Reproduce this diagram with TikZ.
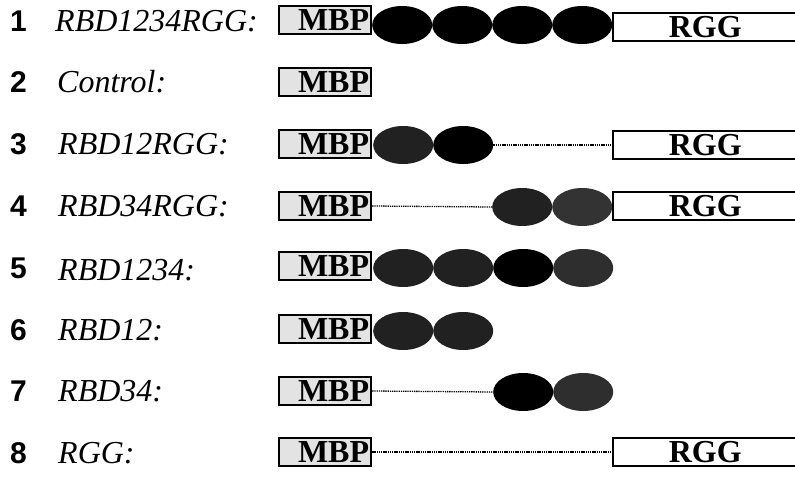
\documentclass[tikz,border=0pt]{standalone}
\usepackage{fontspec}
\setmainfont{Liberation Serif}
\newfontfamily\numfont{Liberation Sans}
\usetikzlibrary{shapes.geometric}
\begin{document}
\begin{tikzpicture}[x=1pt,y=-1pt,
  numtxt/.style={anchor=base west, inner sep=0, font=\numfont\bfseries\fontsize{30}{30}\selectfont},
  labtxt/.style={anchor=base west, inner sep=0, font=\itshape\fontsize{32}{32}\selectfont},
  mbpbox/.style={draw, line width=2.2pt, fill=gray!22, text width=88pt, align=right,
    inner xsep=2pt, inner ysep=0pt, minimum height=28pt, anchor=west,
    font=\bfseries\fontsize{32}{32}\selectfont},
  rbd/.style={ellipse, fill=black, minimum width=60pt, minimum height=38pt, inner sep=0, anchor=west},
  rbdg/.style={rbd, fill=black!87},
  rggbox/.style={draw, line width=1.5pt, fill=white, minimum width=185pt, minimum height=28pt,
    inner sep=0, anchor=west, font=\bfseries\fontsize{32}{32}\selectfont},
  linker/.style={line width=1.3pt, dash pattern=on 1.3pt off 0.9pt}]
\clip (0,0) rectangle (795,479);
\fill[white] (0,0) rectangle (795,479);
% row 1
\node[numtxt] (n1) at (10,31) {1};
\node[labtxt] (l1) at (55,31) {RBD1234RGG:};
\node[mbpbox] (m1) at (278,20) {MBP};
\node[rbd] (a1) at (372,25) {};
\node[rbd] (b1) at (432,25) {};
\node[rbd] (c1) at (492,25) {};
\node[rbd] (d1) at (552,25) {};
\node[rggbox] (g1) at (612,27) {RGG};
% row 2
\node[numtxt] (n2) at (10,92) {2};
\node[labtxt] (l2) at (57,92) {Control:};
\node[mbpbox] (m2) at (278,82) {MBP};
% row 3
\node[numtxt] (n3) at (10,154) {3};
\node[labtxt] (l3) at (58,154) {RBD12RGG:};
\node[mbpbox] (m3) at (278,144) {MBP};
\node[rbdg] (a3) at (373,145) {};
\node[rbd] (b3) at (433,145) {};
\node[rggbox] (g3) at (612,145) {RGG};
\draw[linker] (b3.east) -- (g3.west);
% row 4
\node[numtxt] (n4) at (10,216) {4};
\node[labtxt] (l4) at (58,216) {RBD34RGG:};
\node[mbpbox] (m4) at (278,206) {MBP};
\node[rbdg] (c4) at (492,207) {};
\node[rbd, fill=black!80] (d4) at (552,207) {};
\node[rggbox] (g4) at (612,206) {RGG};
\draw[linker] (m4.east) -- (c4.west);
% row 5
\node[numtxt] (n5) at (10,278) {5};
\node[labtxt] (l5) at (58,280) {RBD1234:};
\node[mbpbox] (m5) at (278,266) {MBP};
\node[rbdg] (a5) at (373,268) {};
\node[rbdg] (b5) at (433,268) {};
\node[rbd] (c5) at (493,268) {};
\node[rbd, fill=black!82] (d5) at (553,268) {};
% row 6
\node[numtxt] (n6) at (10,340) {6};
\node[labtxt] (l6) at (58,340) {RBD12:};
\node[mbpbox] (m6) at (278,329) {MBP};
\node[rbdg] (a6) at (373,331) {};
\node[rbdg] (b6) at (433,331) {};
% row 7
\node[numtxt] (n7) at (10,401) {7};
\node[labtxt] (l7) at (58,401) {RBD34:};
\node[mbpbox] (m7) at (278,391) {MBP};
\node[rbd] (c7) at (493,392) {};
\node[rbd, fill=black!82] (d7) at (553,392) {};
\draw[linker] (m7.east) -- (c7.west);
% row 8
\node[numtxt] (n8) at (10,463) {8};
\node[labtxt] (l8) at (58,463) {RGG:};
\node[mbpbox] (m8) at (278,452) {MBP};
\node[rggbox] (g8) at (612,452) {RGG};
\draw[linker] (m8.east) -- (g8.west);
\end{tikzpicture}
\end{document}
